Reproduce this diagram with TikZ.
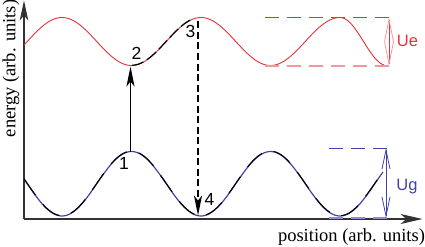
\documentclass[tikz,border=0pt]{standalone}
\usepackage{fontspec}
\setmainfont{Liberation Serif}
\newfontfamily\arialf{Liberation Sans}
\usetikzlibrary{arrows.meta}
\definecolor{ured}{RGB}{232,48,58}
\definecolor{upink}{RGB}{246,150,160}
\definecolor{ublue}{RGB}{66,66,172}
\definecolor{ubluel}{RGB}{140,140,212}
\definecolor{axisgray}{RGB}{50,50,50}
\tikzset{
  axisline/.style={axisgray, line width=1.1pt},
  bluecurve/.style={ublue, line width=1.2pt},
  redcurve/.style={ured, line width=0.9pt},
  overlay/.style={black, line width=1.1pt, dash pattern=on 20pt off 12pt},
  numlabel/.style={font=\arialf\fontsize{17.5}{18}\selectfont, inner sep=0pt},
  ulabel/.style={font=\arialf\fontsize{16.5}{18}\selectfont, inner sep=0pt, anchor=base},
  axislabel/.style={font=\fontsize{18.5}{20}\selectfont, inner sep=0pt, anchor=base},
  transition/.style={black, line width=1.5pt, -{Stealth[length=20pt, width=8pt, inset=5pt]}},
  levelline/.style={dash pattern=on 14pt off 8pt},
}
\begin{document}
\begin{tikzpicture}[x=1pt, y=-1pt]
\useasboundingbox (0,0) rectangle (425,246);

% axes
\coordinate (O) at (24,219);
\coordinate (ytip) at (24,0.5);
\coordinate (xtip) at (422.5,219);
\draw[axisline, -{Stealth[length=20pt, width=8.5pt, inset=5pt]}] (O) -- (ytip);
\draw[axisline, -{Stealth[length=22pt, width=10pt, inset=6pt]}] (O) -- (xtip);
\node[axislabel, rotate=90] (ylab) at (15.5,68.5) {energy (arb. units)};
\node[axislabel] (xlab) at (351.5,241.5) {position (arb. units)};

% ground-state potential
\draw[bluecurve] plot[domain=24:383, samples=160] (\x, {183.75 + 32.25*cos((\x-62)*2.58993)});
\draw[overlay] plot[domain=24:383, samples=160] (\x, {183.4 + 32.25*cos((\x-62)*2.58993)});

% excited-state potential
\draw[redcurve] plot[domain=24:340, samples=160] (\x, {41.5 - 24*cos((\x-62)*2.58993)})
  -- plot[domain=340:384, samples=30] (\x, {41.5 - 24*cos((\x-340)*3.8298)});
\draw[black, line width=1.2pt, dash pattern=on 12pt off 4pt] plot[domain=132:190, samples=40] (\x, {41.3 - 24*cos((\x-62)*2.58993)});

% Ue levels
\coordinate (ueTL) at (265,17.5);
\coordinate (ueTR) at (390,17.5);
\coordinate (ueBL) at (265,66);
\coordinate (ueBR) at (390,66);
\coordinate (ueT) at (389,17.5);
\coordinate (ueB) at (389,66);
\draw[ured, line width=0.9pt, levelline] (ueTL) -- (ueTR);
\draw[upink, line width=1.8pt, levelline] (ueBL) -- (ueBR);
\draw[ured, line width=0.8pt, {Straight Barb[length=22pt, width=9pt, color=upink]}-{Straight Barb[length=22pt, width=9pt, color=upink]}] (ueT) -- (ueB);
\node[ulabel, text=ured] (ue) at (407.5,46) {Ue};

% Ug levels
\coordinate (ugTL) at (329,148);
\coordinate (ugTR) at (390,148);
\coordinate (ugBL) at (329,218);
\coordinate (ugBR) at (390,218);
\coordinate (ugT) at (386,148);
\coordinate (ugB) at (386,218);
\draw[ublue, line width=0.9pt, levelline] (ugTL) -- (ugTR);
\draw[ubluel, line width=1.8pt, levelline] (ugBL) -- (ugBR);
\draw[ublue, line width=0.8pt, {Straight Barb[length=19pt, width=8pt]}-{Straight Barb[length=19pt, width=8pt]}] (ugT) -- (ugB);
\node[ulabel, text=ublue] (ug) at (407,190) {Ug};

% transitions
\coordinate (p1) at (130.5,151.5);
\coordinate (p2) at (130.5,66.5);
\coordinate (p3) at (198,21.5);
\coordinate (p4) at (198,215.5);
\draw[transition] (p1) -- (p2);
\draw[transition, line width=1.3pt, dash pattern=on 7pt off 3.5pt] (p3) -- (p4);

\node[numlabel] (n1) at (124,163.7) {1};
\node[numlabel] (n2) at (136.5,53.3) {2};
\node[numlabel] (n3) at (190.5,31.7) {3};
\node[numlabel] (n4) at (209.5,199.5) {4};
\end{tikzpicture}
\end{document}
